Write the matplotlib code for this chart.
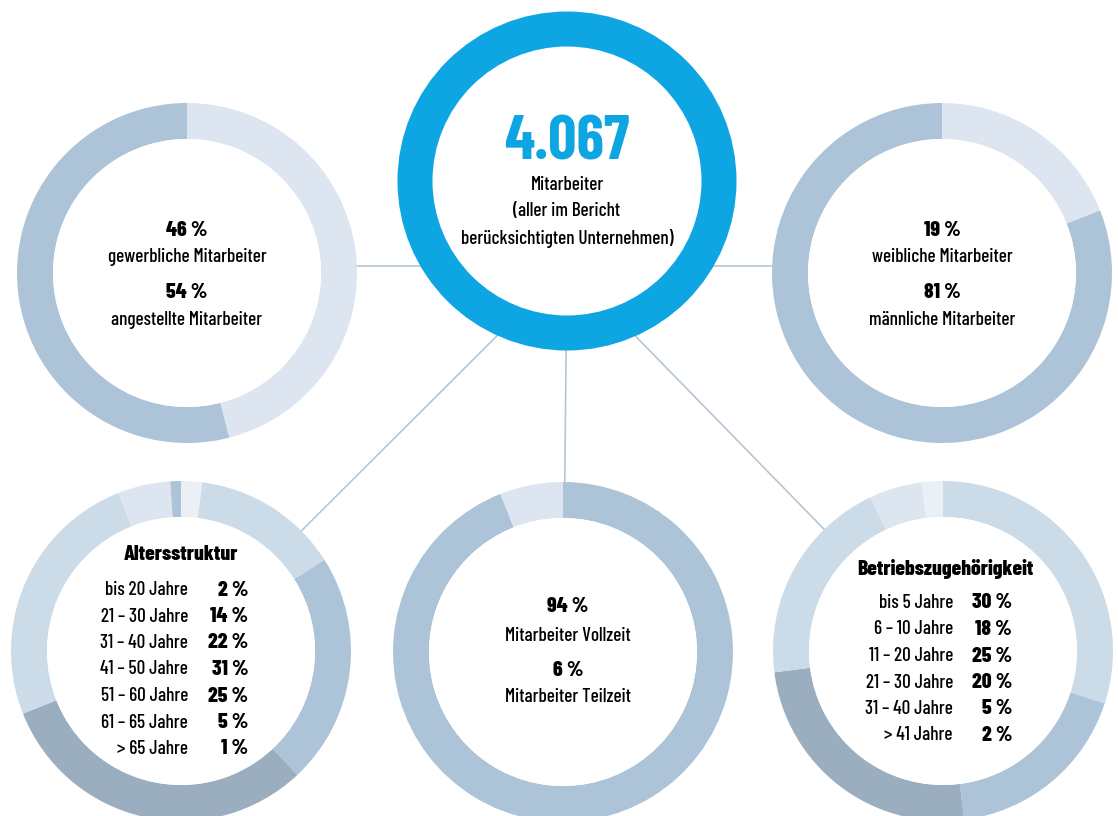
import matplotlib.pyplot as plt
from matplotlib.patches import Circle
from matplotlib import font_manager

# ===== Data =====
total_staff = "4.067"
total_lines = ["Mitarbeiter", "(aller im Bericht", "berücksichtigten Unternehmen)"]

type_labels = ["gewerbliche Mitarbeiter", "angestellte Mitarbeiter"]
type_values = [46, 54]

gender_labels = ["weibliche Mitarbeiter", "männliche Mitarbeiter"]
gender_values = [19, 81]

time_labels = ["Mitarbeiter Vollzeit", "Mitarbeiter Teilzeit"]
time_values = [94, 6]

age_title = "Altersstruktur"
age_labels = ["bis 20 Jahre", "21 – 30 Jahre", "31 – 40 Jahre", "41 – 50 Jahre",
              "51 – 60 Jahre", "61 – 65 Jahre", "> 65 Jahre"]
age_values = [2, 14, 22, 31, 25, 5, 1]

tenure_title = "Betriebszugehörigkeit"
tenure_labels = ["bis 5 Jahre", "6 – 10 Jahre", "11 – 20 Jahre", "21 – 30 Jahre",
                 "31 – 40 Jahre", "> 41 Jahre"]
tenure_values = [30, 18, 25, 20, 5, 2]

# ===== Style =====
BLUE = "#0ea5e3"
DARK = "#9aaec0"
MED = "#adc4d8"
LIGHT = "#ccdbe8"
LIGHTER = "#dde6f0"
LIGHTEST = "#ebf0f6"
LINE = "#b4c6d8"

installed = {f.name for f in font_manager.fontManager.ttflist}
candidates = ["Barlow Condensed", "Roboto Condensed", "Asap Condensed", "Archivo Narrow", "Roboto"]
narrow = next(c for c in candidates if c in installed)
FONT = [narrow, "DejaVu Sans"]

W, H = 1118, 816
R, WIDTH = 170, 36
FS = 13.8      # regular text
FS_B = 15.5    # bold numbers

fig = plt.figure(figsize=(W / 100, H / 100), dpi=100)
ax = fig.add_axes([0, 0, 1, 1])


def y(v):
    # image coords (top-down) -> axes coords
    return H - v


hub = (567, y(266))
centers = {
    "type": (187, y(273)),
    "gender": (942, y(273)),
    "age": (181, y(651)),
    "time": (563, y(652)),
    "tenure": (943, y(651)),
}

# connecting lines (behind the rings)
ax.plot([centers["type"][0], hub[0]], [hub[1], hub[1]], color=LINE, lw=1.2, zorder=0)
ax.plot([hub[0], centers["gender"][0]], [hub[1], hub[1]], color=LINE, lw=1.2, zorder=0)
for key in ["age", "time", "tenure"]:
    ax.plot([hub[0], centers[key][0]], [hub[1], centers[key][1]], color=LINE, lw=1.2, zorder=0)


def donut(values, colors, center):
    ax.pie(values, colors=colors, center=center, radius=R, startangle=90,
           counterclock=False, frame=True,
           wedgeprops=dict(width=WIDTH, edgecolor="none", linewidth=0))
    ax.add_patch(Circle(center, R - WIDTH, facecolor="white", edgecolor="none", zorder=1))


donut(type_values, [LIGHTER, MED], centers["type"])
donut(gender_values, [LIGHTER, MED], centers["gender"])
donut(time_values, [MED, LIGHTER], centers["time"])
donut(age_values, [LIGHTEST, LIGHT, MED, DARK, LIGHT, LIGHTER, MED], centers["age"])
donut(tenure_values, [LIGHT, MED, DARK, LIGHT, LIGHTER, LIGHTEST], centers["tenure"])

# central ring
main_c = (567, y(181))
ax.add_patch(Circle(main_c, 152, facecolor="white", edgecolor=BLUE, linewidth=35 * 0.72, zorder=2))

txt = dict(ha="center", va="center", family=FONT, color="black", zorder=5)
ax.text(main_c[0], y(143), total_staff, fontsize=45, fontweight="bold",
        **{**txt, "color": BLUE})
for line, yy in zip(total_lines, [185, 211, 238]):
    ax.text(main_c[0], y(yy), line, fontsize=FS, fontweight="medium", **txt)


def two_part(cx, values, labels, ys):
    for v, lab, (y1, y2) in zip(values, labels, ys):
        ax.text(cx, y(y1), f"{v} %", fontsize=FS_B, fontweight="heavy", **txt)
        ax.text(cx, y(y2), lab, fontsize=FS, fontweight="medium", **txt)


two_part(187, type_values, type_labels, [(230, 257), (292, 320)])
two_part(942, gender_values, gender_labels, [(230, 257), (292, 320)])
two_part(568, time_values, time_labels, [(607, 636), (670, 697)])


def table(cx, title, title_y, labels, values, y0, lab_x, val_x):
    ax.text(cx, y(title_y), title, fontsize=15.5, fontweight="heavy", **txt)
    for i, (lab, v) in enumerate(zip(labels, values)):
        yy = y(y0 + i * 26.5)
        ax.text(lab_x, yy, lab, fontsize=FS, fontweight="medium", ha="right",
                va="center", family=FONT, zorder=5)
        ax.text(val_x, yy, f"{v} %", fontsize=FS_B, fontweight="heavy", ha="right",
                va="center", family=FONT, zorder=5)


table(181, age_title, 554, age_labels, age_values, 590, 188, 248)
table(945, tenure_title, 569, tenure_labels, tenure_values, 603, 953, 1012)

ax.set_xlim(0, W)
ax.set_ylim(0, H)
ax.set_aspect("equal")
ax.axis("off")

fig.savefig("out.png", dpi=100, facecolor="white")
